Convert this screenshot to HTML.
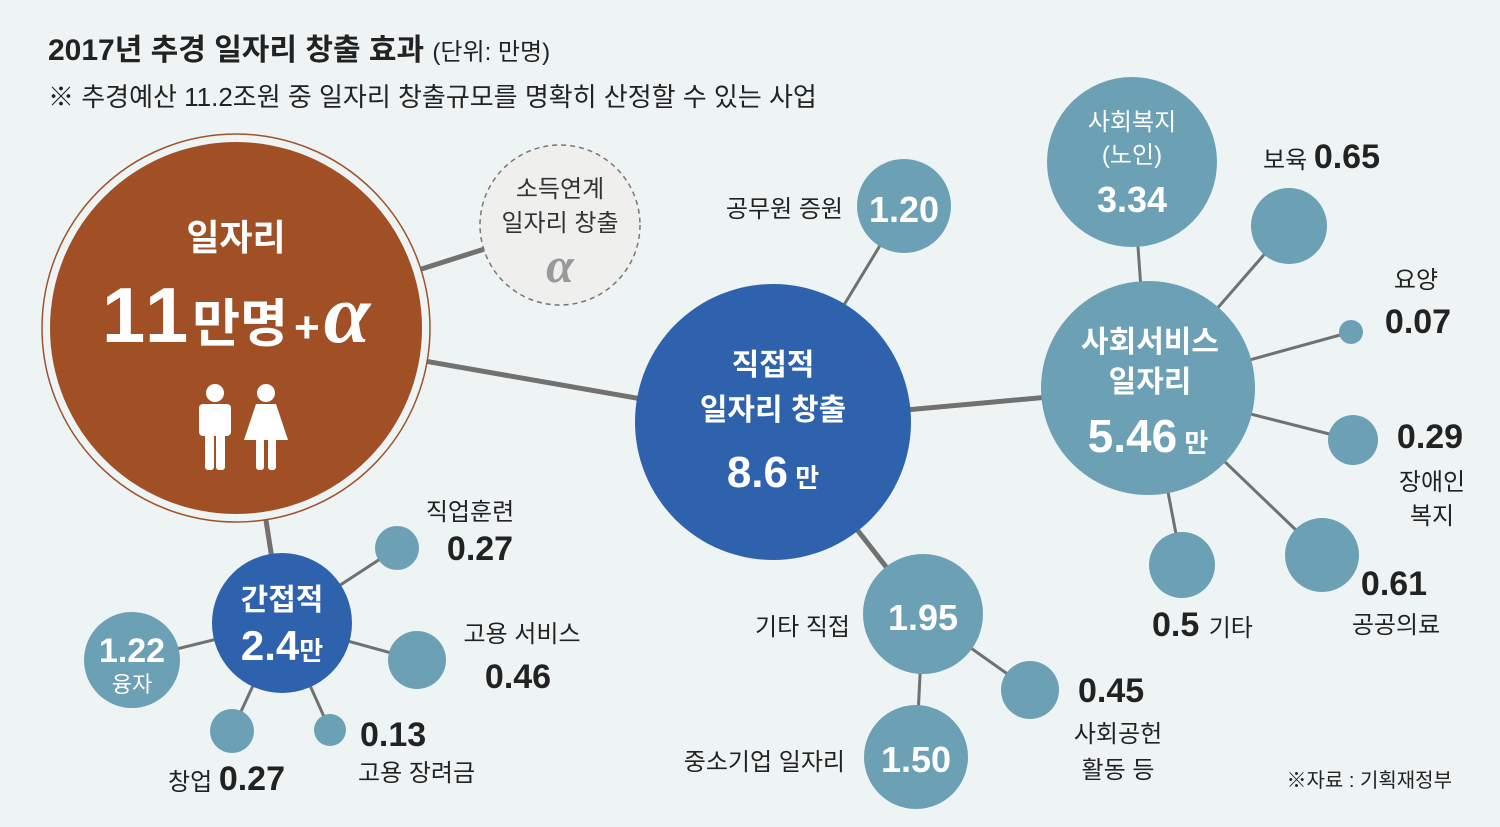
<!DOCTYPE html>
<html><head><meta charset="utf-8"><style>
body{margin:0;background:#eef4f4;}
svg{display:block;font-family:"Liberation Sans","Noto Sans CJK KR",sans-serif;}
</style></head><body>
<svg width="1500" height="827" viewBox="0 0 1500 827">
<rect width="1500" height="827" fill="#eef4f4"/>
<g stroke="#717171" stroke-linecap="round">
<line x1="236" y1="328" x2="560" y2="225" stroke-width="5"/>
<line x1="236" y1="328" x2="773" y2="422" stroke-width="5"/>
<line x1="236" y1="328" x2="282" y2="623" stroke-width="5"/>
<line x1="773" y1="422" x2="1148" y2="388" stroke-width="5"/>
<line x1="773" y1="422" x2="904" y2="206" stroke-width="3"/>
<line x1="773" y1="422" x2="923" y2="614" stroke-width="5"/>
<line x1="923" y1="614" x2="1030" y2="690" stroke-width="3"/>
<line x1="923" y1="614" x2="916" y2="757" stroke-width="3"/>
<line x1="1148" y1="388" x2="1132" y2="162" stroke-width="3"/>
<line x1="1148" y1="388" x2="1289" y2="226" stroke-width="3"/>
<line x1="1148" y1="388" x2="1351" y2="332" stroke-width="3"/>
<line x1="1148" y1="388" x2="1353" y2="440" stroke-width="3"/>
<line x1="1148" y1="388" x2="1322" y2="555" stroke-width="3"/>
<line x1="1148" y1="388" x2="1182" y2="565" stroke-width="3"/>
<line x1="282" y1="623" x2="132" y2="660" stroke-width="3"/>
<line x1="282" y1="623" x2="397" y2="548" stroke-width="3"/>
<line x1="282" y1="623" x2="417" y2="660" stroke-width="3"/>
<line x1="282" y1="623" x2="232" y2="731" stroke-width="3"/>
<line x1="282" y1="623" x2="330" y2="730" stroke-width="3"/>
</g>
<circle cx="236" cy="328" r="194" fill="#eef4f4" stroke="#a0522a" stroke-width="1.5"/>
<circle cx="236" cy="328" r="186" fill="#a05024"/>
<circle cx="560" cy="225" r="80" fill="#efefed" stroke="#777" stroke-width="1.5" stroke-dasharray="5,4"/>
<circle cx="773" cy="422" r="138" fill="#2f62ac"/>
<circle cx="282" cy="623" r="70" fill="#2f62ac"/>
<g fill="#6ca0b5">
<circle cx="904" cy="206" r="47"/>
<circle cx="1148" cy="388" r="107"/>
<circle cx="1132" cy="162" r="85"/>
<circle cx="1289" cy="226" r="38"/>
<circle cx="1351" cy="332" r="12"/>
<circle cx="1353" cy="440" r="25"/>
<circle cx="1322" cy="555" r="37"/>
<circle cx="1182" cy="565" r="33"/>
<circle cx="923" cy="614" r="60"/>
<circle cx="1030" cy="690" r="29"/>
<circle cx="916" cy="757" r="52"/>
<circle cx="132" cy="660" r="48"/>
<circle cx="397" cy="548" r="22"/>
<circle cx="417" cy="660" r="29"/>
<circle cx="232" cy="731" r="22"/>
<circle cx="330" cy="730" r="16"/>
</g>
<g fill="#fff">
<circle cx="215" cy="393" r="9"/>
<rect x="199" y="404" width="32" height="32" rx="4"/>
<rect x="205" y="430" width="9" height="40" rx="3"/>
<rect x="216" y="430" width="9" height="40" rx="3"/>
<circle cx="266" cy="393" r="9"/>
<polygon points="256,404 276,404 288,440 244,440"/>
<rect x="256" y="438" width="8" height="32" rx="3"/>
<rect x="268" y="438" width="8" height="32" rx="3"/>
</g>
<g fill="#222">
<text x="48" y="60" font-size="30" font-weight="bold">2017년 추경 일자리 창출 효과 <tspan font-size="24" font-weight="normal">(단위: 만명)</tspan></text>
<text x="48" y="106" font-size="26">※ 추경예산 11.2조원 중 일자리 창출규모를 명확히 산정할 수 있는 사업</text>
<text x="843" y="217" font-size="24" text-anchor="end">공무원 증원</text>
<text x="1263" y="168" font-size="24">보육 <tspan font-size="34" font-weight="bold">0.65</tspan></text>
<text x="1416" y="288" font-size="24" text-anchor="middle">요양</text>
<text x="1418" y="333" font-size="34" font-weight="bold" text-anchor="middle">0.07</text>
<text x="1430" y="448" font-size="34" font-weight="bold" text-anchor="middle">0.29</text>
<text x="1432" y="490" font-size="24" text-anchor="middle">장애인</text>
<text x="1432" y="524" font-size="24" text-anchor="middle">복지</text>
<text x="1394" y="595" font-size="34" font-weight="bold" text-anchor="middle">0.61</text>
<text x="1396" y="633" font-size="24" text-anchor="middle">공공의료</text>
<text x="1152" y="636" font-size="34" font-weight="bold">0.5 <tspan font-size="24" font-weight="normal">기타</tspan></text>
<text x="850" y="635" font-size="24" text-anchor="end">기타 직접</text>
<text x="1078" y="702" font-size="34" font-weight="bold">0.45</text>
<text x="1118" y="742" font-size="24" text-anchor="middle">사회공헌</text>
<text x="1118" y="778" font-size="24" text-anchor="middle">활동 등</text>
<text x="845" y="770" font-size="24" text-anchor="end">중소기업 일자리</text>
<text x="1452" y="787" font-size="20" text-anchor="end">※자료 : 기획재정부</text>
<text x="470" y="520" font-size="24" text-anchor="middle">직업훈련</text>
<text x="480" y="560" font-size="34" font-weight="bold" text-anchor="middle">0.27</text>
<text x="522" y="642" font-size="24" text-anchor="middle">고용 서비스</text>
<text x="518" y="688" font-size="34" font-weight="bold" text-anchor="middle">0.46</text>
<text x="360" y="746" font-size="34" font-weight="bold">0.13</text>
<text x="358" y="781" font-size="24">고용 장려금</text>
<text x="168" y="790" font-size="24">창업 <tspan font-size="34" font-weight="bold">0.27</tspan></text>
</g>
<g fill="#fff" text-anchor="middle">
<text x="236" y="250" font-size="36" font-weight="bold">일자리</text>
<text x="236" y="342" font-size="78" font-weight="bold"><tspan letter-spacing="4">11</tspan><tspan font-size="52">만명</tspan><tspan font-size="44" dx="6">+</tspan><tspan font-size="84" font-style="italic" font-family="Liberation Serif,serif" dx="4">α</tspan></text>
<text x="773" y="375" font-size="30" font-weight="bold">직접적</text>
<text x="773" y="420" font-size="30" font-weight="bold">일자리 창출</text>
<text x="773" y="487" font-size="44" font-weight="bold">8.6<tspan font-size="26"> 만</tspan></text>
<text x="282" y="610" font-size="30" font-weight="bold">간접적</text>
<text x="282" y="660" font-size="42" font-weight="bold">2.4<tspan font-size="26">만</tspan></text>
<text x="904" y="222" font-size="36" font-weight="bold">1.20</text>
<text x="1132" y="130" font-size="24">사회복지</text>
<text x="1132" y="163" font-size="24">(노인)</text>
<text x="1132" y="212" font-size="36" font-weight="bold">3.34</text>
<text x="1150" y="352" font-size="30" font-weight="bold">사회서비스</text>
<text x="1150" y="392" font-size="30" font-weight="bold">일자리</text>
<text x="1148" y="452" font-size="46" font-weight="bold">5.46<tspan font-size="26"> 만</tspan></text>
<text x="923" y="630" font-size="36" font-weight="bold">1.95</text>
<text x="916" y="772" font-size="36" font-weight="bold">1.50</text>
<text x="132" y="662" font-size="34" font-weight="bold">1.22</text>
<text x="132" y="692" font-size="22">융자</text>
</g>
<g text-anchor="middle">
<text x="560" y="197" font-size="24" fill="#333">소득연계</text>
<text x="560" y="231" font-size="24" fill="#333">일자리 창출</text>
<text x="560" y="282" font-size="50" font-style="italic" font-weight="bold" font-family="Liberation Serif,serif" fill="#999">α</text>
</g>
</svg>
</body></html>
